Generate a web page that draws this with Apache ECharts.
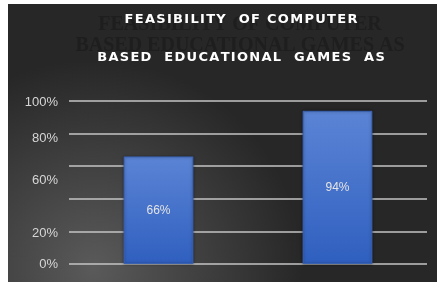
<!DOCTYPE html>
<html>
<head>
<meta charset="utf-8">
<script src="https://cdn.jsdelivr.net/npm/echarts@6/dist/echarts.min.js"></script>
<style>
    html, body { margin: 0; padding: 0; background: #ffffff; }
    #chart { position: absolute; left: 8px; top: 4px; width: 429px; height: 278px; }
</style>
</head>
<body>
<div id="chart"></div>
<script>
// 数据部分
var categories = ['A', 'B'];
var values = [66, 94];
// 纵轴标签（原图标签位置不规则）
var yLabelText = ['0%', '20%', '60%', '80%', '100%'];
var yLabelPos = [0, 19, 51, 77, 99];
var titleLines = ['FEASIBILITY  OF COMPUTER', 'BASED  EDUCATIONAL  GAMES  AS'];

// 字间距：字母之间插入细空格
function spaced(s) {
    return s.split('').join('\u200A');
}

(function () {
    var myChart = echarts.init(document.getElementById('chart'));

    var option = {
        backgroundColor: {
            type: 'radial', x: 0.2, y: 0.95, r: 0.75,
            colorStops: [
                { offset: 0, color: '#5a5a5a' },
                { offset: 1, color: '#272727' }
            ]
        },
        title: [
            {
                // 背后的暗色文字
                text: 'FEASIBILITY OF COMPUTER\nBASED EDUCATIONAL GAMES AS',
                left: 232,
                textAlign: 'center',
                top: 10,
                padding: 0,
                textStyle: {
                    fontFamily: 'Liberation Serif',
                    fontWeight: 'bold',
                    fontSize: 20,
                    lineHeight: 21,
                    color: '#1e1e1e'
                }
            },
            {
                text: titleLines.map(spaced).join('\n'),
                left: 233,
                textAlign: 'center',
                top: -3,
                padding: 0,
                textStyle: {
                    fontFamily: 'DejaVu Sans',
                    fontWeight: 'bold',
                    fontSize: 13,
                    lineHeight: 38,
                    color: '#ffffff'
                }
            }
        ],
        grid: { left: 61, right: 10, top: 97, bottom: 18 },
        xAxis: {
            type: 'category',
            data: categories,
            axisLine: { show: false },
            axisTick: { show: false },
            axisLabel: { show: false }
        },
        yAxis: [
            {
                type: 'value',
                min: 0,
                max: 100,
                interval: 20,
                axisLabel: { show: false },
                axisLine: { show: false },
                axisTick: { show: false },
                splitLine: { lineStyle: { color: '#c4c4c4', width: 1.5 } }
            },
            {
                type: 'value',
                position: 'left',
                min: 0,
                max: 100,
                axisLine: { show: false },
                axisTick: { show: false },
                splitLine: { show: false },
                axisLabel: {
                    customValues: yLabelPos,
                    margin: 11,
                    color: '#d6d6d6',
                    fontSize: 13,
                    fontFamily: 'Liberation Sans',
                    formatter: function (v) {
                        var i = yLabelPos.indexOf(v);
                        return i >= 0 ? yLabelText[i] : '';
                    }
                }
            }
        ],
        series: [
            {
                type: 'bar',
                data: values,
                barWidth: '39%',
                itemStyle: {
                    color: {
                        type: 'linear', x: 0, y: 0, x2: 0, y2: 1,
                        colorStops: [
                            { offset: 0, color: '#5b84d5' },
                            { offset: 1, color: '#2f5fbf' }
                        ]
                    },
                    borderColor: '#3a62b3',
                    borderWidth: 1,
                    shadowColor: 'rgba(0,0,0,0.4)',
                    shadowBlur: 3
                },
                label: {
                    show: true,
                    position: 'inside',
                    color: '#e4e4e4',
                    fontSize: 12,
                    fontFamily: 'Liberation Sans',
                    formatter: '{c}%'
                }
            }
        ]
    };

    myChart.setOption(option);

    window.addEventListener('resize', function () {
        myChart.resize();
    });
})();
</script>
</body>
</html>
